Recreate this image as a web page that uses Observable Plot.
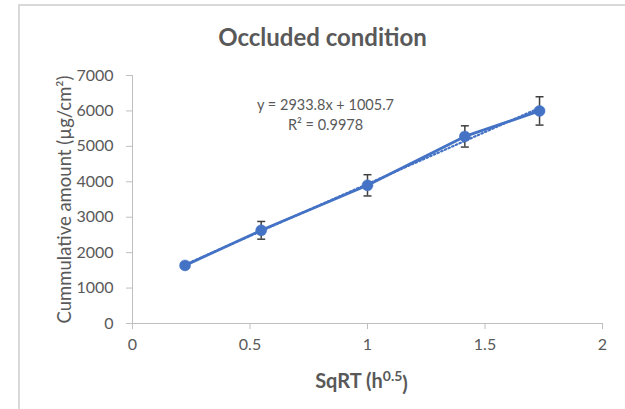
<!DOCTYPE html>
<html>
<head>
<meta charset="utf-8">
<script src="https://cdn.jsdelivr.net/npm/d3@7"></script>
<script src="https://cdn.jsdelivr.net/npm/@observablehq/plot@0.6"></script>
<style>
  html, body { margin: 0; padding: 0; background: #fff; }
  #wrap { position: relative; width: 625px; height: 409px; overflow: hidden; }
  #border { position: absolute; left: 18px; top: 4px; width: 700px; height: 500px;
            border-left: 2px solid #d9d9d9; border-top: 2px solid #d9d9d9; pointer-events: none; }
  svg { font-family: Lato, "Open Sans", sans-serif; }
</style>
</head>
<body>
<div id="wrap"><div id="border"></div></div>
<script>
// Data
const sqrtTime = [0.2236, 0.5477, 1.0, 1.4142, 1.7321];
const amount   = [1640, 2630, 3900, 5280, 6000];
const errors   = [60, 250, 300, 300, 400];
const xTicks = [0, 0.5, 1, 1.5, 2];
const yTicks = [0, 1000, 2000, 3000, 4000, 5000, 6000, 7000];
const titleText = "Occluded condition";
const yLabelText = "Cummulative amount (µg/cm²)";
const equationText = "y = 2933.8x + 1005.7";
const r2Text = "R² = 0.9978";

const data = sqrtTime.map((x, i) => ({x, y: amount[i], lo: amount[i] - errors[i], hi: amount[i] + errors[i]}));

const blue = "#4472C4";
const grey = "#595959";
const axisGrey = "#bfbfbf";
const capSymbol = { draw(ctx, size) { const r = Math.sqrt(size / Math.PI); ctx.moveTo(-r, 0); ctx.lineTo(r, 0); } };

const plot = Plot.plot({
  width: 625,
  height: 409,
  marginLeft: 132,
  marginRight: 23,
  marginTop: 75,
  marginBottom: 86,
  x: {domain: [0, 2]},
  y: {domain: [0, 7000]},
  marks: [
    Plot.ruleX([0], {stroke: axisGrey, strokeWidth: 1}),
    Plot.ruleY([0], {stroke: axisGrey, strokeWidth: 1}),
    Plot.axisY({ticks: yTicks, tickSize: 6, tickPadding: 13, stroke: axisGrey, fill: grey, fontSize: 16, label: null, tickFormat: d => String(d)}),
    Plot.axisX({ticks: xTicks, tickSize: 6, tickPadding: 9, stroke: axisGrey, fill: grey, fontSize: 16, label: null, tickFormat: d => String(d)}),
    Plot.linearRegressionY(data, {x: "x", y: "y", ci: 0, stroke: blue, strokeWidth: 2.2, strokeDasharray: "1.5,2.5"}),
    Plot.ruleX(data, {x: "x", y1: "lo", y2: "hi", stroke: "#404040", strokeWidth: 1.5}),
    Plot.dot(data, {x: "x", y: "lo", symbol: capSymbol, r: 4, stroke: "#404040", strokeWidth: 1.5}),
    Plot.dot(data, {x: "x", y: "hi", symbol: capSymbol, r: 4, stroke: "#404040", strokeWidth: 1.5}),
    Plot.line(data, {x: "x", y: "y", stroke: blue, strokeWidth: 2.8}),
    Plot.dot(data, {x: "x", y: "y", r: 5.5, fill: blue, stroke: blue, strokeWidth: 0.5}),
    Plot.text([equationText], {text: d => d, frameAnchor: "top", dx: -42, dy: 24, fill: grey, fontSize: 14.5}),
    Plot.text([r2Text], {text: d => d, frameAnchor: "top", dx: -42, dy: 44, fill: grey, fontSize: 14.5}),
    Plot.text([titleText], {text: d => d, frameAnchor: "top", textAnchor: "middle", dx: -45, dy: -47, fill: grey, fontSize: 24, fontWeight: "bold"}),
    Plot.text([yLabelText], {text: d => d, frameAnchor: "left", textAnchor: "middle", dx: -67, rotate: -90, fill: grey, fontSize: 18.5}),
    Plot.text(["SqRT (h"], {text: d => d, frameAnchor: "bottom", textAnchor: "middle", dx: -6, dy: 64, fill: grey, fontSize: 20, fontWeight: "bold", className: "xlabel"})
  ]
});

// Superscript for the x label
const xl = d3.select(plot).select("g.xlabel text");
xl.text(null);
xl.append("tspan").text("SqRT (h");
xl.append("tspan").attr("font-size", 14).attr("dy", "-0.5em").text("0.5");
xl.append("tspan").attr("dy", "0.5em").text(")");

document.getElementById("wrap").appendChild(plot);
plot.style.position = "absolute";
plot.style.left = "0";
plot.style.top = "0";
</script>
</body>
</html>
